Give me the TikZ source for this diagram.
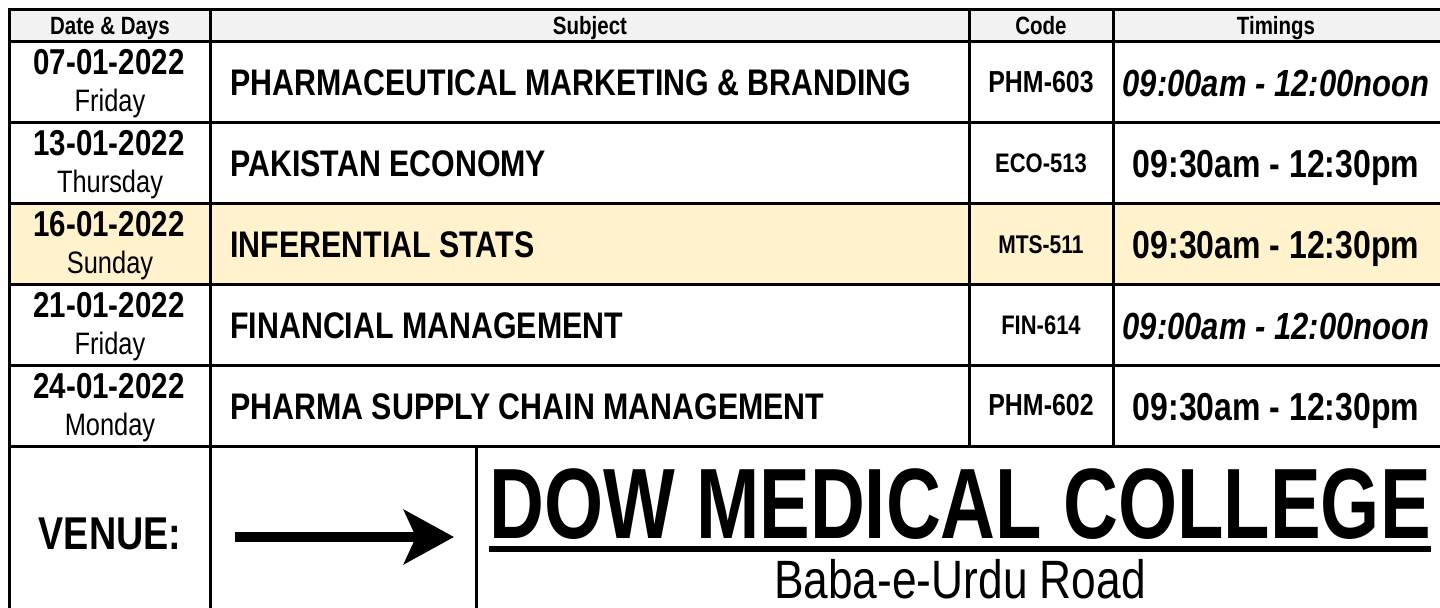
\documentclass[tikz,border=0pt]{standalone}
\usepackage{fontspec}
\setmainfont{Liberation Sans}[FakeStretch=0.82]
\newfontfamily\titlefont[FakeStretch=0.76]{Liberation Sans}
\usetikzlibrary{arrows.meta}
\definecolor{HeadClr}{rgb}{0.949,0.949,0.949}
\definecolor{MarkClr}{rgb}{1,0.949,0.8}

\begin{document}
\begin{tikzpicture}[x=0.5pt,y=-0.5pt,
  grid/.style={line width=1.5pt,line cap=rect},
  txt/.style={inner sep=0pt,anchor=base},
  headtxt/.style={txt,font=\bfseries\fontsize{12.5}{14}\selectfont},
  datetxt/.style={txt,font=\bfseries\fontsize{18}{19}\selectfont},
  daytxt/.style={txt,font=\fontsize{15.5}{16}\selectfont},
  subjtxt/.style={txt,anchor=base west,font=\bfseries\fontsize{18.5}{19}\selectfont},
  codetxt/.style={txt,font=\bfseries\fontsize{#1}{14}\selectfont},
  timetxt/.style={txt,font=\bfseries\fontsize{19.5}{20}\selectfont},
  itimetxt/.style={txt,font=\bfseries\itshape\fontsize{18.9}{20}\selectfont},
  venuearrow/.style={line width=5pt,-{Stealth[length=25pt,width=27pt,inset=6pt]}}]
\useasboundingbox (0,0) rectangle (1440,608);

\fill[HeadClr] (9,10) rectangle (1441,42);
\fill[MarkClr] (9,204) rectangle (1441,285);

\draw[grid] (9,10) -- (1441,10);
\draw[grid] (9,42) -- (1441,42);
\draw[grid] (9,123) -- (1441,123);
\draw[grid] (9,204) -- (1441,204);
\draw[grid] (9,285) -- (1441,285);
\draw[grid] (9,366) -- (1441,366);
\draw[grid] (9,447) -- (1441,447);
\draw[grid] (9,10) -- (9,612);
\draw[grid] (210,10) -- (210,612);
\draw[grid] (969,10) -- (969,447);
\draw[grid] (1113,10) -- (1113,447);
\draw[grid] (476,447) -- (476,612);
\draw[grid] (1441,10) -- (1441,612);

\node[headtxt] (HD) at (110,35) {Date \& Days};
\node[headtxt] (HS) at (590,35) {Subject};
\node[headtxt] (HK) at (1041,35) {Code};
\node[headtxt] (HT) at (1276,35) {Timings};

\node[datetxt] (D1) at (109,75) {07-01-2022};
\node[daytxt] (Y1) at (110,112) {Friday};
\node[subjtxt] (S1) at (230,96) {PHARMACEUTICAL MARKETING \& BRANDING};
\node[codetxt=15.2] (K1) at (1041,93) {PHM-603};
\node[itimetxt] (T1) at (1276,97) {09:00am - 12:00noon};

\node[datetxt] (D2) at (109,156) {13-01-2022};
\node[daytxt] (Y2) at (110,193) {Thursday};
\node[subjtxt] (S2) at (230,177) {PAKISTAN ECONOMY};
\node[codetxt=13.4] (K2) at (1041,173) {ECO-513};
\node[timetxt] (T2) at (1276,178) {09:30am - 12:30pm};

\node[datetxt] (D3) at (109,237) {16-01-2022};
\node[daytxt] (Y3) at (110,274) {Sunday};
\node[subjtxt] (S3) at (230,258) {INFERENTIAL STATS};
\node[codetxt=12.8] (K3) at (1041,254) {MTS-511};
\node[timetxt] (T3) at (1276,259) {09:30am - 12:30pm};

\node[datetxt] (D4) at (109,318) {21-01-2022};
\node[daytxt] (Y4) at (110,355) {Friday};
\node[subjtxt] (S4) at (230,339) {FINANCIAL MANAGEMENT};
\node[codetxt=13.4] (K4) at (1041,335) {FIN-614};
\node[itimetxt] (T4) at (1276,340) {09:00am - 12:00noon};

\node[datetxt] (D5) at (109,399) {24-01-2022};
\node[daytxt] (Y5) at (110,436) {Monday};
\node[subjtxt] (S5) at (230,420) {PHARMA SUPPLY CHAIN MANAGEMENT};
\node[codetxt=15.2] (K5) at (1041,416) {PHM-602};
\node[timetxt] (T5) at (1276,421) {09:30am - 12:30pm};

\node[txt,font=\bfseries\fontsize{23}{24}\selectfont] (V) at (110,550) {VENUE:};
\coordinate (AS) at (235,537);
\coordinate (AE) at (454,537);
\draw[venuearrow] (AS) -- (AE);

\node[txt,font=\titlefont\bfseries\fontsize{50}{50}\selectfont] (DMC) at (960,539) {DOW MEDICAL COLLEGE};
\draw[line width=3pt] ([yshift=-5pt]DMC.base west) -- ([yshift=-5pt]DMC.base east);
\node[txt,font=\fontsize{27}{28}\selectfont] (BR) at (960,599) {Baba-e-Urdu Road};

\end{tikzpicture}
\end{document}
